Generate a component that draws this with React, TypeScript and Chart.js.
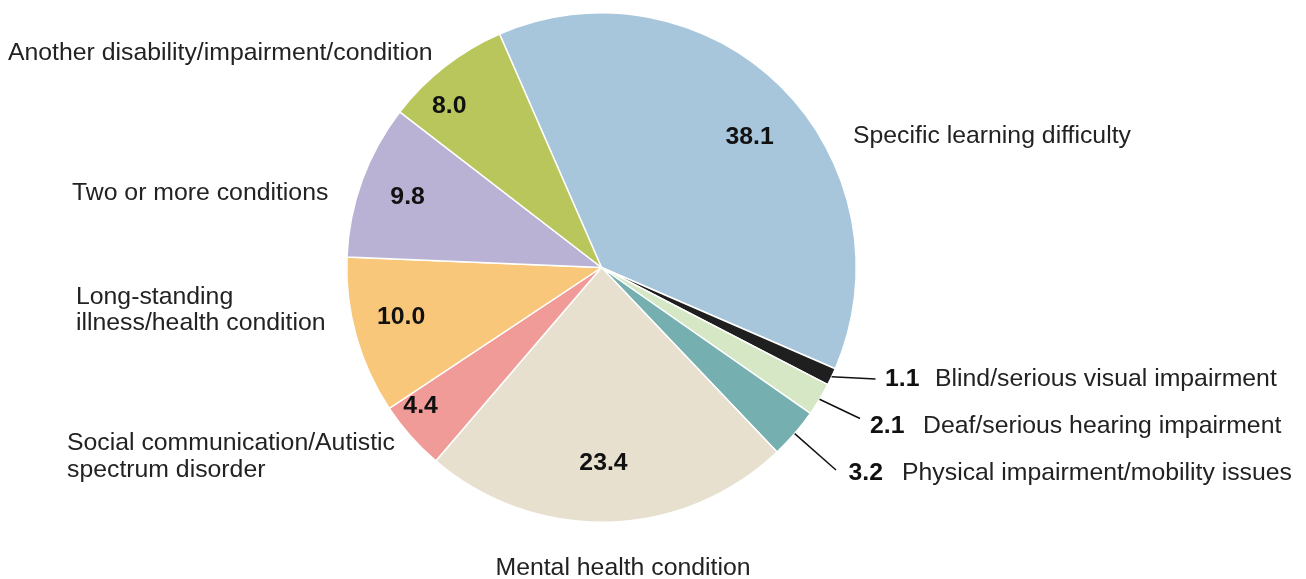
import React, { useEffect, useRef } from "react";
import { Chart, registerables } from "chart.js";

Chart.register(...registerables);

const categories: string[] = [
  "Specific learning difficulty",
  "Blind/serious visual impairment",
  "Deaf/serious hearing impairment",
  "Physical impairment/mobility issues",
  "Mental health condition",
  "Social communication/Autistic spectrum disorder",
  "Long-standing illness/health condition",
  "Two or more conditions",
  "Another disability/impairment/condition",
];

const values: number[] = [38.1, 1.1, 2.1, 3.2, 23.4, 4.4, 10.0, 9.8, 8.0];

const valueLabels: string[] = ["38.1", "1.1", "2.1", "3.2", "23.4", "4.4", "10.0", "9.8", "8.0"];

// how the category names are broken into lines for display
const nameLines: string[][] = [
  ["Specific learning difficulty"],
  ["Blind/serious visual impairment"],
  ["Deaf/serious hearing impairment"],
  ["Physical impairment/mobility issues"],
  ["Mental health condition"],
  ["Social communication/Autistic", "spectrum disorder"],
  ["Long-standing", "illness/health condition"],
  ["Two or more conditions"],
  ["Another disability/impairment/condition"],
];

const colors: string[] = [
  "#a7c6dc",
  "#1f1f1f",
  "#d5e7c5",
  "#75afaf",
  "#e7e0cf",
  "#f09b98",
  "#f9c77a",
  "#bab2d4",
  "#b8c65b",
];

type Layout = {
  inside: boolean;
  frac?: number;
  dAng?: number;
  name: { dx: number; dy: number; align: CanvasTextAlign; lineH?: number };
  leader?: { ex: number; ey: number; vx: number };
};

const layouts: Layout[] = [
  { inside: true, frac: 0.775, dAng: 3.7, name: { dx: 251.5, dy: -131, align: "left" } },
  { inside: false, name: { dx: 333.5, dy: 111.5, align: "left" }, leader: { ex: 274, ey: 111.5, vx: 283.5 } },
  { inside: false, name: { dx: 321.5, dy: 159, align: "left" }, leader: { ex: 258.5, ey: 151, vx: 268.5 } },
  { inside: false, name: { dx: 300.5, dy: 206, align: "left" }, leader: { ex: 234.5, ey: 202.5, vx: 247 } },
  { inside: true, frac: 0.767, dAng: 0.9, name: { dx: 21.5, dy: 300.5, align: "center" } },
  { inside: true, frac: 0.895, dAng: 4, name: { dx: -534.5, dy: 175.5, align: "left", lineH: 27 } },
  { inside: true, frac: 0.81, dAng: 1.8, name: { dx: -525.5, dy: 29.5, align: "left", lineH: 26 } },
  { inside: true, frac: 0.81, dAng: 0, name: { dx: -529.5, dy: -74.5, align: "left" } },
  { inside: true, frac: 0.87, dAng: -5.4, name: { dx: -593.5, dy: -214.5, align: "left" } },
];

const FONT_FAMILY = "'Liberation Sans', Arial, sans-serif";
const FONT_SIZE = 24.8;

const labelPlugin = {
  id: "pieLabels",
  afterDatasetsDraw(chart: any) {
    const ctx: CanvasRenderingContext2D = chart.ctx;
    const meta = chart.getDatasetMeta(0);
    ctx.save();
    meta.data.forEach((arc: any, i: number) => {
      const cx = arc.x;
      const cy = arc.y;
      const r = arc.outerRadius;
      const mid = (arc.startAngle + arc.endAngle) / 2;
      const L = layouts[i];
      ctx.textBaseline = "middle";
      if (L.inside) {
        const a = mid + ((L.dAng || 0) * Math.PI) / 180;
        const rr = r * (L.frac || 0.75);
        ctx.font = `bold ${FONT_SIZE}px ${FONT_FAMILY}`;
        ctx.fillStyle = "#111111";
        ctx.textAlign = "center";
        ctx.fillText(valueLabels[i], cx + rr * Math.cos(a), cy + rr * Math.sin(a));
      } else if (L.leader) {
        const sx = cx + r * Math.cos(mid);
        const sy = cy + r * Math.sin(mid);
        ctx.strokeStyle = "#111111";
        ctx.lineWidth = 1.5;
        ctx.beginPath();
        ctx.moveTo(sx, sy);
        ctx.lineTo(cx + L.leader.ex, cy + L.leader.ey);
        ctx.stroke();
        ctx.font = `bold ${FONT_SIZE}px ${FONT_FAMILY}`;
        ctx.fillStyle = "#111111";
        ctx.textAlign = "left";
        ctx.fillText(valueLabels[i], cx + L.leader.vx, cy + L.name.dy);
      }
      ctx.font = `${FONT_SIZE}px ${FONT_FAMILY}`;
      ctx.fillStyle = "#222222";
      ctx.textAlign = L.name.align;
      const lines = nameLines[i];
      const lh = L.name.lineH || 26;
      lines.forEach((ln, k) => {
        ctx.fillText(ln, cx + L.name.dx, cy + L.name.dy + k * lh);
      });
    });
    ctx.restore();
  },
};

export default function App() {
  const ref = useRef<HTMLCanvasElement | null>(null);
  useEffect(() => {
    if (!ref.current) return;
    const chart = new Chart(ref.current, {
      type: "pie",
      data: {
        labels: categories,
        datasets: [
          {
            data: values,
            backgroundColor: colors,
            borderColor: "#ffffff",
            borderWidth: 1.5,
          },
        ],
      },
      options: {
        responsive: false,
        animation: false,
        rotation: -23.6,
        layout: { padding: { left: 345, right: 448, top: 12, bottom: 56 } },
        plugins: {
          legend: { display: false },
          tooltip: { enabled: false },
        },
      },
      plugins: [labelPlugin],
    });
    return () => chart.destroy();
  }, []);
  return (
    <div style={{ position: "fixed", left: 0, top: 0, width: 1306, height: 579, background: "#fff" }}>
      <canvas ref={ref} width={1306} height={579} />
    </div>
  );
}
